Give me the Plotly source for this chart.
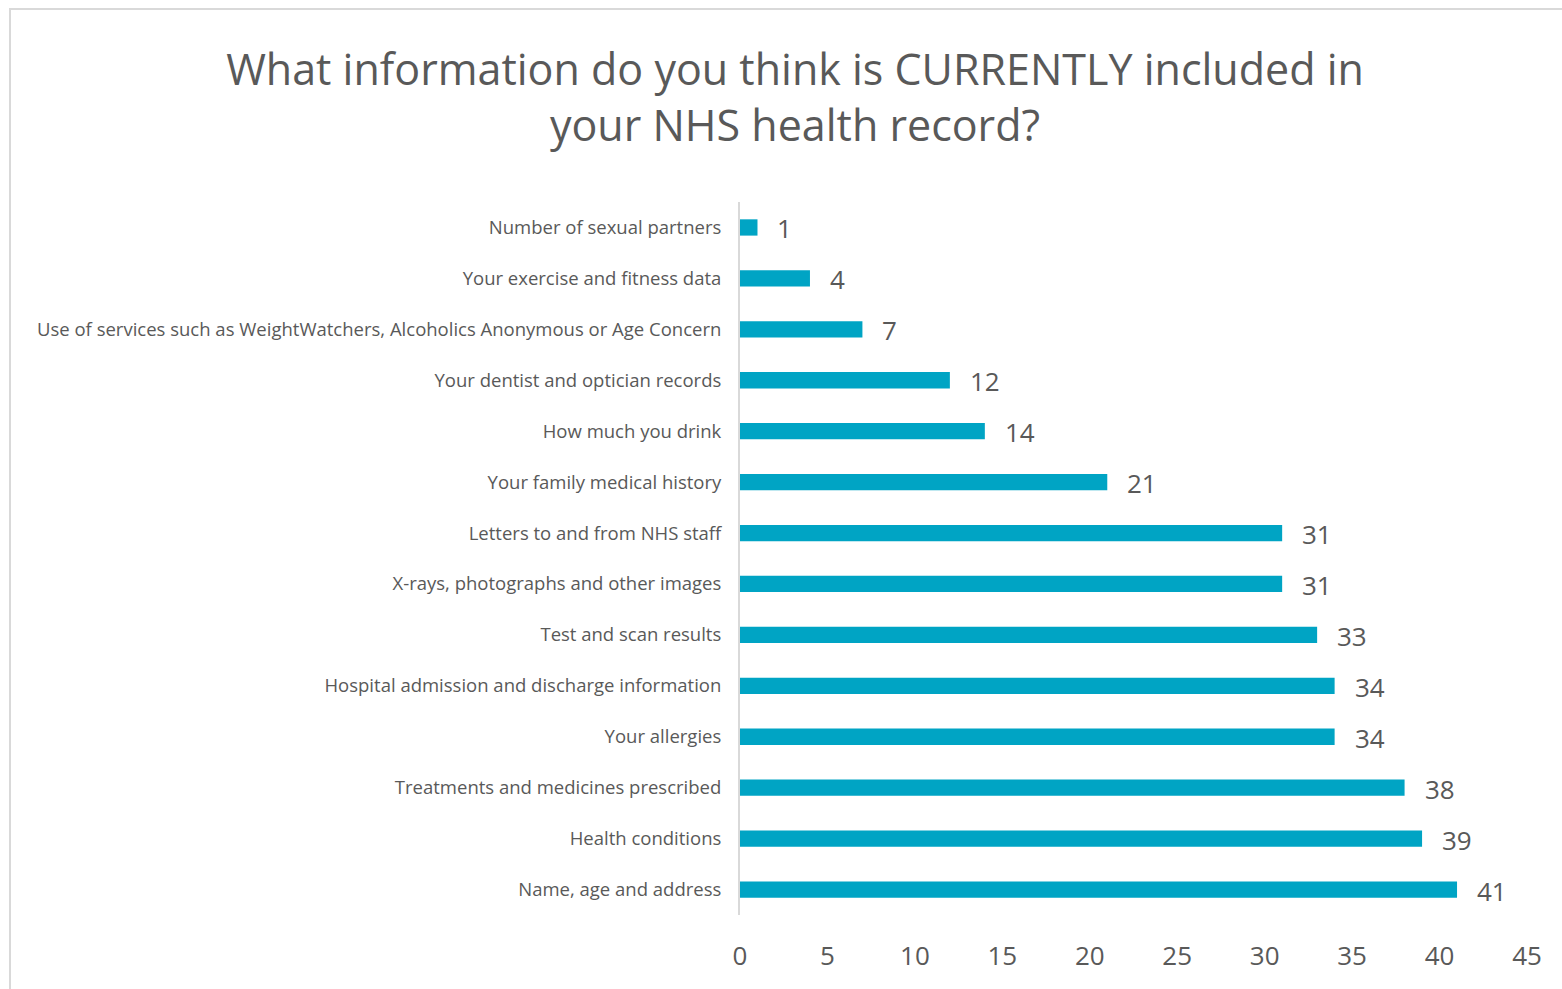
import plotly.graph_objects as go

categories = [
    "Number of sexual partners",
    "Your exercise and fitness data",
    "Use of services such as WeightWatchers, Alcoholics Anonymous or Age Concern",
    "Your dentist and optician records",
    "How much you drink",
    "Your family medical history",
    "Letters to and from NHS staff",
    "X-rays, photographs and other images",
    "Test and scan results",
    "Hospital admission and discharge information",
    "Your allergies",
    "Treatments and medicines prescribed",
    "Health conditions",
    "Name, age and address",
]
values = [1, 4, 7, 12, 14, 21, 31, 31, 33, 34, 34, 38, 39, 41]
tick_vals = [0, 5, 10, 15, 20, 25, 30, 35, 40, 45]

W, H = 1562, 989
L, R, T, B = 740, 35, 202, 74
pw = W - L - R
ph = H - T - B

fig = go.Figure()
fig.add_trace(go.Bar(
    y=categories, x=values, orientation="h",
    marker=dict(color="#00A4C4", line=dict(width=0)),
    width=0.32, hoverinfo="x+y",
))

for c, v in zip(categories, values):
    fig.add_annotation(x=v, y=c, text=str(v), showarrow=False,
                       xanchor="left", xshift=18, yshift=-1,
                       font=dict(family="Open Sans", size=26, color="#595959"))

# outer chart border
fig.add_shape(type="rect", xref="paper", yref="paper",
              x0=(10 - L) / pw, x1=(W + 20 - L) / pw,
              y0=(H - B - (H + 20)) / ph, y1=(H - B - 9) / ph,
              line=dict(color="#D9D9D9", width=2), fillcolor="rgba(0,0,0,0)", layer="below")

fig.update_layout(
    width=W, height=H,
    margin=dict(l=L, r=R, t=T, b=B, autoexpand=False),
    paper_bgcolor="white", plot_bgcolor="white",
    showlegend=False,
    title=dict(text="What information do you think is CURRENTLY included in<br>your NHS health record?",
               x=795 / W, xanchor="center", y=1 - 85 / H, yanchor="middle",
               font=dict(family="Open Sans", size=43, color="#595959")),
    xaxis=dict(range=[0, 45], tickvals=tick_vals, showgrid=False, zeroline=False,
               showline=False, ticks="", tickfont=dict(family="Open Sans", size=26, color="#595959"),
               ticklabelstandoff=23),
    yaxis=dict(categoryorder="array", categoryarray=categories[::-1],
               showgrid=False, zeroline=False, showline=True, linecolor="#D9D9D9", linewidth=2,
               ticks="", ticklabelstandoff=13,
               tickfont=dict(family="Open Sans", size=18.5, color="#595959")),
)

fig.write_html("out.html")
